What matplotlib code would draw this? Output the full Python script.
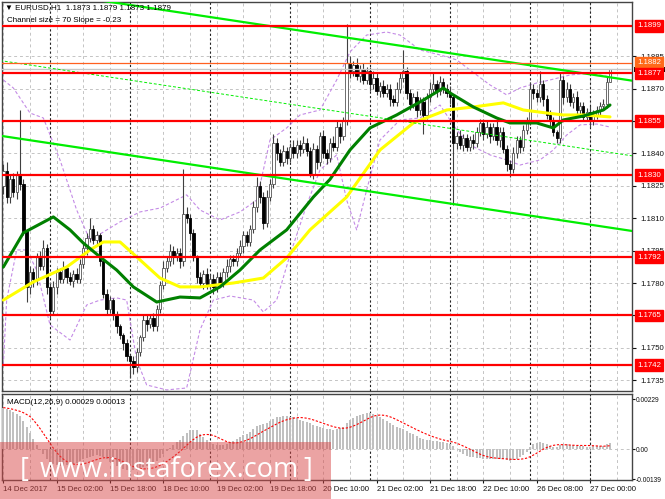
import matplotlib
matplotlib.use("Agg")
import matplotlib.pyplot as plt
import matplotlib.transforms as mtransforms
from matplotlib.patches import Rectangle
import numpy as np
import pandas as pd

plt.rcParams['font.family'] = ['Liberation Sans', 'DejaVu Sans']

# ---- data (EURUSD H1, 14 Dec 2017 10:00 .. 27 Dec 2017 06:00) ----
first_open = 1.1825
closes = [
    1.1832, 1.1820, 1.1828, 1.1822, 1.1830, 1.1826, 1.1804, 1.1778, 1.1785, 1.1782,
    1.1792, 1.1788, 1.1796, 1.1778, 1.1767, 1.1778, 1.1785, 1.1782, 1.1787, 1.1783,
    1.1781, 1.1784, 1.1782, 1.1789, 1.1796, 1.1801, 1.1805, 1.1800, 1.1802, 1.1790,
    1.1775, 1.1768, 1.1772, 1.1765, 1.1760, 1.1756, 1.1752, 1.1746, 1.1744, 1.1741,
    1.1748, 1.1755, 1.1763, 1.1761, 1.1764, 1.1760, 1.1768, 1.1779, 1.1787, 1.1790,
    1.1795, 1.1792, 1.1794, 1.1790, 1.1812, 1.1810, 1.1803, 1.1792, 1.1783, 1.1780,
    1.1784, 1.1779, 1.1782, 1.1778, 1.1783, 1.1780, 1.1785, 1.1788, 1.1791, 1.1790,
    1.1794, 1.1797, 1.1802, 1.1799, 1.1805, 1.1815, 1.1825, 1.1820, 1.1808, 1.1820,
    1.1826, 1.1845, 1.1840, 1.1836, 1.1841, 1.1838, 1.1843, 1.1840, 1.1844, 1.1842,
    1.1845, 1.1841, 1.1830, 1.1842, 1.1836, 1.1848, 1.1840, 1.1838, 1.1845, 1.1843,
    1.1852, 1.1848, 1.1855, 1.1882, 1.1878, 1.1881, 1.1876, 1.1879, 1.1874, 1.1878,
    1.1872, 1.1875, 1.1869, 1.1871, 1.1868, 1.1870, 1.1865, 1.1864, 1.1870, 1.1875,
    1.1878, 1.1868, 1.1863, 1.1866, 1.1860, 1.1864, 1.1858, 1.1866, 1.1870, 1.1872,
    1.1869, 1.1873, 1.1870, 1.1868, 1.1866, 1.1845, 1.1848, 1.1844, 1.1847, 1.1843,
    1.1846, 1.1845, 1.1850, 1.1854, 1.1849, 1.1852, 1.1848, 1.1852, 1.1846, 1.1850,
    1.1842, 1.1835, 1.1833, 1.1840, 1.1846, 1.1843, 1.1851, 1.1855, 1.1870, 1.1868,
    1.1866, 1.1872, 1.1865, 1.1858, 1.1855, 1.1850, 1.1847, 1.1874, 1.1866, 1.1870,
    1.1864, 1.1866, 1.1860, 1.1862, 1.1857, 1.1859, 1.1855, 1.1858, 1.1860, 1.1862,
    1.1863, 1.1873, 1.1879,
]
# wick lengths above / below the body, in pips
up_wick = [
    3, 4, 2, 3, 2, 30, 2, 1, 3, 2,
    2, 3, 4, 2, 2, 3, 2, 2, 3, 1,
    2, 2, 3, 2, 3, 2, 5, 2, 2, 1,
    1, 2, 2, 1, 2, 1, 1, 2, 1, 2,
    2, 1, 2, 2, 1, 2, 2, 2, 3, 2,
    3, 2, 2, 2, 21, 3, 2, 2, 1, 2,
    2, 3, 2, 2, 2, 2, 2, 3, 2, 2,
    2, 3, 2, 2, 2, 3, 4, 2, 2, 3,
    2, 4, 2, 2, 3, 2, 2, 3, 2, 2,
    3, 2, 2, 3, 2, 2, 3, 2, 2, 3,
    3, 2, 2, 18, 3, 2, 3, 2, 3, 2,
    2, 3, 2, 2, 3, 2, 2, 2, 3, 2,
    10, 2, 2, 2, 3, 2, 2, 2, 3, 5,
    2, 3, 2, 2, 3, 1, 2, 3, 2, 2,
    2, 3, 2, 2, 2, 3, 2, 2, 3, 2,
    2, 2, 2, 3, 2, 2, 2, 2, 3, 2,
    2, 6, 2, 2, 2, 2, 1, 3, 2, 3,
    2, 2, 3, 2, 2, 2, 3, 2, 2, 2,
    2, 3, 0,
]
dn_wick = [
    4, 3, 3, 2, 3, 3, 2, 7, 3, 4,
    3, 2, 2, 3, 3, 2, 3, 2, 2, 3,
    2, 3, 2, 2, 2, 3, 2, 2, 3, 2,
    2, 3, 2, 2, 3, 2, 3, 2, 8, 3,
    2, 2, 2, 3, 2, 2, 2, 2, 2, 2,
    2, 3, 2, 3, 2, 2, 3, 2, 3, 2,
    3, 2, 2, 3, 2, 2, 2, 2, 3, 2,
    2, 2, 3, 2, 2, 2, 2, 3, 3, 2,
    2, 2, 3, 2, 2, 3, 2, 2, 2, 3,
    2, 2, 1, 2, 3, 2, 2, 3, 2, 2,
    2, 3, 2, 2, 3, 2, 2, 3, 2, 2,
    3, 2, 2, 3, 2, 2, 3, 2, 2, 2,
    2, 3, 3, 2, 3, 2, 9, 2, 2, 2,
    3, 2, 2, 2, 3, 29, 3, 2, 3, 2,
    2, 3, 2, 2, 3, 2, 3, 2, 2, 3,
    2, 3, 4, 2, 2, 3, 2, 2, 2, 3,
    2, 2, 3, 2, 3, 2, 2, 2, 3, 2,
    2, 3, 2, 3, 2, 2, 3, 2, 2, 2,
    2, 2, 0,
]

# moving averages (bar index, price)
ma_fast_bars = [0, 6, 15, 20, 24, 29, 34, 39, 46, 53, 59, 65, 71, 77, 85, 93, 98,
                104, 110, 118, 126, 132, 134, 141, 148, 152, 160, 165, 168, 174, 180, 182]
ma_fast = [1.17874, 1.18032, 1.18106, 1.18046, 1.17985, 1.17921, 1.17860, 1.17782,
           1.17712, 1.17735, 1.17731, 1.17782, 1.17860, 1.17953, 1.18046, 1.18198,
           1.18280, 1.18416, 1.18518, 1.18578, 1.18647, 1.18703, 1.18680, 1.18615,
           1.18564, 1.18541, 1.18541, 1.18518, 1.18555, 1.18573, 1.18601, 1.18624]
ma_slow_bars = [0, 9, 19, 26, 30, 35, 41, 47, 53, 59, 69, 78, 85, 92, 98, 103, 113,
                123, 133, 141, 150, 156, 163, 168, 174, 182]
ma_slow = [1.17721, 1.17805, 1.17874, 1.17953, 1.17990, 1.17990, 1.17907, 1.17823,
           1.17782, 1.17782, 1.17800, 1.17823, 1.17916, 1.18046, 1.18129, 1.18198,
           1.18416, 1.18541, 1.18601, 1.18615, 1.18634, 1.18601, 1.18587, 1.18578,
           1.18578, 1.18569]

# envelope (bollinger-like) bands
bb_up_bars = [0, 3, 8, 12, 17, 22, 26, 30, 35, 41, 47, 55, 59, 65, 71, 76, 80, 85,
              89, 95, 100, 104, 109, 115, 119, 125, 131, 136, 140, 146, 151, 155,
              160, 164, 170, 176, 182]
bb_up = [1.18740, 1.18703, 1.18587, 1.18564, 1.18370, 1.18138, 1.17999, 1.18036,
         1.18083, 1.18129, 1.18147, 1.18208, 1.18138, 1.18092, 1.18129, 1.18184,
         1.18462, 1.18518, 1.18578, 1.18601, 1.18740, 1.18870, 1.18948, 1.18962,
         1.18948, 1.18879, 1.18856, 1.18833, 1.18786, 1.18717, 1.18671, 1.18703,
         1.18726, 1.18740, 1.18763, 1.18772, 1.18754]
bb_dn_bars = [0, 1, 4, 7, 10, 14, 20, 25, 29, 34, 37, 40, 43, 49, 55, 59, 63, 68,
              75, 78, 82, 86, 91, 95, 100, 103, 106, 109, 113, 119, 125, 131, 136,
              140, 146, 151, 155, 161, 165, 169, 173, 178, 182]
bb_dn = [1.17421, 1.17721, 1.17953, 1.17953, 1.17860, 1.17606, 1.17536, 1.17698,
         1.17721, 1.17731, 1.17721, 1.17444, 1.17328, 1.17305, 1.17314, 1.17583,
         1.17721, 1.17740, 1.17721, 1.17666, 1.17721, 1.17930, 1.18161, 1.18323,
         1.18393, 1.18184, 1.18046, 1.18231, 1.18462, 1.18555, 1.18564, 1.18624,
         1.18509, 1.18439, 1.18393, 1.18370, 1.18346, 1.18370, 1.18416, 1.18485,
         1.18532, 1.18536, 1.18522]

# regression channel
chan_bars = [-1, 189]
chan_mid = [1.18830, 1.18388]
chan_half = 0.00348

levels = [1.1899, 1.1877, 1.1855, 1.1830, 1.1792, 1.1765, 1.1742]
orange_level = 1.1882
bid_level = 1.1879

# MACD main (x1e-5)
macd = [
    190, 185, 180, 172, 160, 150, 130, 100, 75, 45,
    20, -5, -25, -45, -60, -70, -75, -80, -78, -75,
    -72, -68, -62, -55, -48, -40, -35, -30, -28, -30,
    -38, -48, -58, -68, -78, -86, -92, -98, -100, -98,
    -95, -90, -84, -78, -72, -64, -55, -40, -25, -10,
    5, 18, 30, 40, 60, 75, 85, 88, 85, 70,
    55, 42, 32, 25, 20, 18, 20, 25, 30, 38,
    45, 55, 62, 70, 80, 92, 105, 112, 115, 120,
    128, 138, 145, 148, 150, 150, 148, 145, 140, 135,
    130, 125, 118, 110, 105, 100, 95, 92, 90, 88,
    90, 95, 100, 118, 132, 143, 152, 158, 162, 165,
    164, 160, 152, 145, 136, 128, 118, 108, 100, 95,
    90, 82, 75, 68, 60, 52, 45, 42, 40, 38,
    35, 32, 30, 28, 25, 12, -2, -15, -22, -30,
    -35, -38, -40, -42, -44, -45, -45, -46, -45, -46,
    -48, -50, -54, -52, -45, -38, -28, -15, 10, 22,
    28, 30, 28, 22, 15, 10, 8, 18, 20, 22,
    20, 18, 16, 15, 12, 10, 10, 12, 12, 14,
    15, 22, 29,
]

day_starts = [14, 38, 62, 86, 110, 134, 158, 176]
date_bars = [0, 16, 32, 48, 64, 80, 96, 112, 128, 144, 160, 176]
date_labels = ['14 Dec 2017', '15 Dec 02:00', '15 Dec 18:00', '18 Dec 10:00',
               '19 Dec 02:00', '19 Dec 18:00', '20 Dec 10:00', '21 Dec 02:00',
               '21 Dec 18:00', '22 Dec 10:00', '26 Dec 08:00', '27 Dec 00:00']
price_ticks = [1.1735, 1.1750, 1.1765, 1.1780, 1.1795, 1.1810, 1.1825,
               1.1840, 1.1855, 1.1870, 1.1885]

# ---- figure ----
W, H = 665, 499
fig = plt.figure(figsize=(W / 100, H / 100), dpi=100)
ax = fig.add_axes([2 / W, 1 - 391 / H, 630 / W, 389 / H])
ax2 = fig.add_axes([2 / W, 1 - 480 / H, 630 / W, 86 / H])

x = np.arange(len(closes))
c = np.array(closes)
o = np.array([first_open] + closes[:-1])
hi = np.maximum(o, c) + np.array(up_wick) * 0.0001
lo = np.minimum(o, c) - np.array(dn_wick) * 0.0001

ax.set_xlim(-0.4, 188.6)
ax.set_ylim(1.17300, 1.19101)
ax2.set_xlim(-0.4, 188.6)
ax2.set_ylim(-0.001422, 0.002523)

grid_kw = dict(color='#c4c4c4', lw=0.7, ls=(0, (3, 3)), zorder=1)
sep_kw = dict(color='#222222', lw=0.8, ls=(0, (2, 2)), zorder=1)
for a in (ax, ax2):
    for b in range(0, 190, 8):
        a.axvline(b, **grid_kw)
    for d in day_starts:
        a.axvline(d, **sep_kw)
for p in price_ticks:
    ax.axhline(p, **grid_kw)
ax2.axhline(0, **grid_kw)

# candles
bull = c >= o
ax.vlines(x, lo, hi, color='#404040', lw=0.8, zorder=3)
body = np.maximum(np.abs(c - o), 0.00003)
ax.bar(x[bull], body[bull], bottom=o[bull], width=0.7, color='white',
       edgecolor='#555555', linewidth=0.6, zorder=3.5)
ax.bar(x[~bull], body[~bull], bottom=c[~bull], width=0.7, color='black',
       edgecolor='black', linewidth=0.6, zorder=3.5)

# indicators
band_kw = dict(color='#c48be6', lw=0.8, ls=(0, (3, 2)), zorder=2.5)
ax.plot(bb_up_bars, bb_up, **band_kw)
ax.plot(bb_dn_bars, bb_dn, **band_kw)
ax.plot(ma_slow_bars, ma_slow, color='#ffff00', lw=2.2, zorder=4, solid_capstyle='round')
ax.plot(ma_fast_bars, ma_fast, color='#008000', lw=2.2, zorder=4.1, solid_capstyle='round')

mid = np.array(chan_mid)
ax.plot(chan_bars, mid + chan_half, color='#00ee00', lw=1.6, zorder=5)
ax.plot(chan_bars, mid - chan_half, color='#00ee00', lw=1.6, zorder=5)
ax.plot(chan_bars, mid, color='#00ee00', lw=0.7, ls=(0, (3, 2)), zorder=5)

for lv in levels:
    ax.axhline(lv, color='#ff0000', lw=1.6, zorder=5)
ax.axhline(orange_level, color='#ff6020', lw=0.9, zorder=5)
ax.axhline(bid_level, color='#c8c8c8', lw=1.0, zorder=4.9)

# right price axis
for a in (ax, ax2):
    a.yaxis.tick_right()
    a.tick_params(axis='y', labelsize=5.6, length=3, pad=3, colors='#111111')
    for s in a.spines.values():
        s.set_color('#444444')
        s.set_linewidth(1.0)
ax.set_yticks(price_ticks)
# tick labels that sit under a level box are not shown
ax.set_yticklabels(['' if min(abs(p - lv) for lv in levels) < 0.0002 else '%.4f' % p
                    for p in price_ticks])
ax.set_xticks([])
ax2.set_yticks([0.00229, 0.0, -0.00139])
ax2.set_yticklabels(['0.00229', '0.00', '-0.00139'])
ax2.tick_params(axis='y', labelsize=4.8, length=2, pad=1)
ax2.set_xticks(date_bars)
ax2.set_xticklabels(date_labels, ha='left', fontsize=5.6)
ax2.tick_params(axis='x', length=2, pad=2, colors='#111111')

trans = mtransforms.blended_transform_factory(ax.transAxes, ax.transData)
def price_box(val, fc, tc='white'):
    ax.text(1.008, val, '%.4f' % val, transform=trans, fontsize=5.6, color=tc,
            ha='left', va='center', zorder=20, clip_on=False,
            bbox=dict(boxstyle='square,pad=0.3', fc=fc, ec=fc))

# bid marker: a black strip mostly hidden by the neighbouring boxes
ax.add_patch(Rectangle((1.003, bid_level - 0.00012), 0.05, 0.00024, transform=trans,
                       facecolor='black', edgecolor='none', zorder=19, clip_on=False))
price_box(orange_level, '#ff6a1a')
for lv in levels:
    price_box(lv, '#ff0000')

# headers
ax.text(0.005, 0.995, '\u25bc EURUSD,H1  %.4f %.4f %.4f %.4f' % (o[-1], hi[-1], lo[-1], c[-1]),
        transform=ax.transAxes, fontsize=5.8, va='top', ha='left', zorder=20)
ax.text(0.008, 0.962, 'Channel size = 70 Slope = -0.23', transform=ax.transAxes,
        fontsize=5.8, va='top', ha='left', zorder=20)

# MACD panel
m = np.array(macd) * 1e-5
sig = pd.Series(m).rolling(9, min_periods=1).mean()
ax2.bar(x, m, width=0.6, color='#c0c0c0', zorder=3)
ax2.plot(x, sig, color='#ff0000', lw=0.8, ls=(0, (2, 1.5)), zorder=4)
ax2.text(0.008, 0.94, 'MACD(12,26,9) 0.00029 0.00013', transform=ax2.transAxes,
         fontsize=5.8, va='top', ha='left', zorder=20)

# watermark
fig.patches.append(Rectangle((0, 0), 331 / W, 57 / H, transform=fig.transFigure,
                             facecolor='#d84848', alpha=0.5, edgecolor='none', zorder=30))
wm_kw = dict(color='white', fontsize=19.5, va='center', ha='left', zorder=31,
             family=['Open Sans', 'DejaVu Sans'])
fig.text(20 / W, 1 - 470 / H, '[', **wm_kw)
fig.text(40 / W, 1 - 470 / H, 'www.instaforex.com', **wm_kw)
fig.text(303 / W, 1 - 470 / H, ']', **wm_kw)

fig.savefig('out.png', dpi=100)
